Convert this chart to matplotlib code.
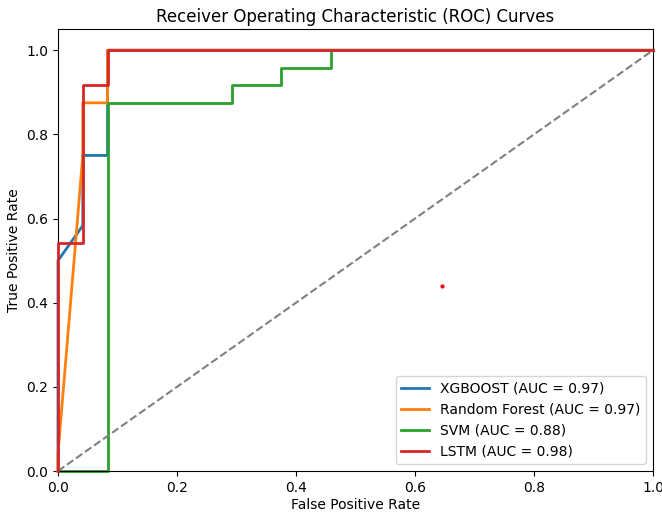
import matplotlib
matplotlib.use("Agg")
import matplotlib.pyplot as plt

# ROC points (24 positives / 24 negatives)
xgb_fpr = [0.0, 0.0, 0.0417, 0.0417, 0.0833, 0.0833, 1.0]
xgb_tpr = [0.0, 0.5, 0.5833, 0.75, 0.75, 1.0, 1.0]

rf_fpr = [0.0, 0.0, 0.0417, 0.0417, 0.0833, 0.0833, 1.0]
rf_tpr = [0.0, 0.0417, 0.75, 0.875, 0.875, 1.0, 1.0]

svm_fpr = [0.0, 0.0833, 0.0833, 0.2917, 0.2917, 0.375, 0.375, 0.4583, 0.4583, 1.0]
svm_tpr = [0.0, 0.0, 0.875, 0.875, 0.9167, 0.9167, 0.9583, 0.9583, 1.0, 1.0]

lstm_fpr = [0.0, 0.0, 0.0417, 0.0417, 0.0833, 0.0833, 1.0]
lstm_tpr = [0.0, 0.5417, 0.5417, 0.9167, 0.9167, 1.0, 1.0]

labels = ["XGBOOST (AUC = 0.97)", "Random Forest (AUC = 0.97)",
          "SVM (AUC = 0.88)", "LSTM (AUC = 0.98)"]

# stray point visible in the reference
dot_x, dot_y = [0.645], [0.44]

fig = plt.figure(figsize=(6.62, 5.12), dpi=100)
ax = fig.add_axes([0.0876, 0.080, 0.8988, 0.863])

ax.plot(xgb_fpr, xgb_tpr, color="tab:blue", lw=2, label=labels[0], clip_on=False)
ax.plot(rf_fpr, rf_tpr, color="tab:orange", lw=2, label=labels[1], clip_on=False)
ax.plot(svm_fpr, svm_tpr, color="tab:green", lw=2, label=labels[2], clip_on=False)
ax.plot(lstm_fpr, lstm_tpr, color="tab:red", lw=2, label=labels[3], clip_on=False, zorder=3)
ax.plot([0, 1], [0, 1], color="gray", ls="--", lw=1.5)
ax.plot(dot_x, dot_y, "o", color="red", ms=2)

ax.set_xlim(0.0, 1.0)
ax.set_ylim(0.0, 1.05)
ax.set_xlabel("False Positive Rate", labelpad=2)
ax.set_ylabel("True Positive Rate")
ax.set_title("Receiver Operating Characteristic (ROC) Curves", pad=5)
ax.legend(loc="lower right")

fig.savefig("out.png", dpi=100)
